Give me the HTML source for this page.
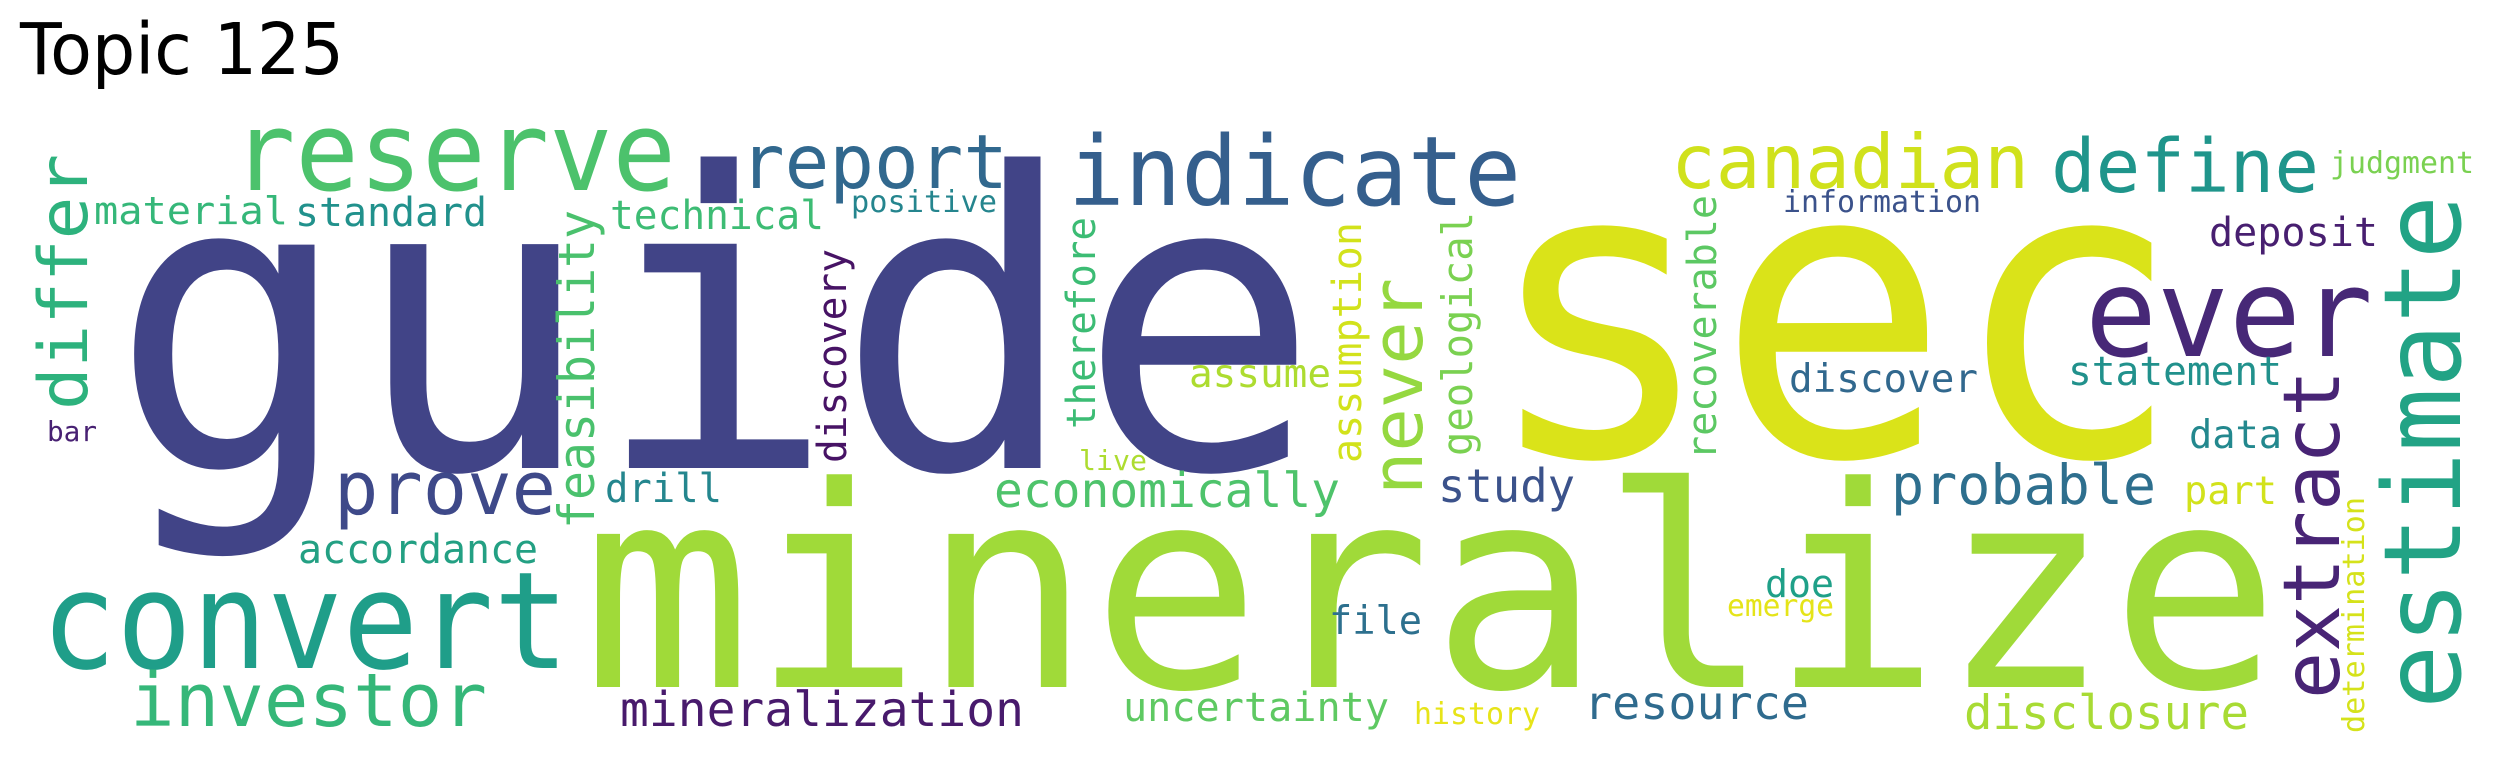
<!DOCTYPE html>
<html><head><meta charset="utf-8">
<style>
html,body{margin:0;padding:0;background:#fff;}
svg{display:block;}
text{font-family:"DejaVu Sans Mono","Liberation Mono",monospace;}
</style></head>
<body>
<svg id="cloud" width="2504" height="764" viewBox="0 0 2504 764" xmlns="http://www.w3.org/2000/svg">
<rect width="2504" height="764" fill="#fff"/>
<text x="20" y="74" font-size="71" textLength="324" lengthAdjust="spacingAndGlyphs" style="font-family:'DejaVu Sans','Liberation Sans',sans-serif" fill="#000">Topic 125</text>
</svg>
<script>
const words = ["guide","sec","mineralize","reserve","indicate","convert","ever","estimate","canadian","define","report","extract","differ","prove","investor","never","probable","economically","mineralization","disclosure","resource","feasibility","study","material","standard","technical","accordance","drill","discovery","therefore","assumption","geological","assume","recoverable","deposit","discover","statement","data","part","uncertainty","file","doe","positive","information","judgment","history","live","emerge","determination","bar"];
const sizes = [410,410,280,110,96,135,122,107,75,74,75,78,68,74,74,70,55,48,48,47,46,50,46,38,40,40,40,40,40,40,40,42,39,40,40,39,40,39,39,40,39,38,30,30,30,30,28,30,30,28];
const colors = ["#414487","#dae319","#a0da39","#4cc26c","#355f8d","#1f9e89","#472877","#22a385","#d0e11c","#1f958b","#31688e","#482475","#2db27d","#3e4989","#35b779","#95d840","#2e6f8e","#4ec36b","#481a6c","#a8db34","#2f6b8e","#4ac16d","#3b528b","#35b779","#21918c","#3dbc74","#23a083","#24868e","#471365","#3cbc74","#d2e21b","#7ad151","#addc30","#5cc863","#481f70","#31688e","#21918c","#23888e","#d2e21b","#5ec962","#2d708e","#1fa088","#25858e","#3b528b","#7ad151","#e7e419","#addc30","#e5e419","#d5e21a","#482173"];
const vertical = [0,0,0,0,0,0,0,1,0,0,0,1,1,0,0,1,0,0,0,0,0,1,0,0,0,0,0,0,1,1,1,1,0,1,0,0,0,0,0,0,0,0,0,0,0,0,0,0,1,0];
// layout: [anchor x, anchor y, rendered length]
const layout = [[110,468,1210],[1482,455,702],[582,687,1698],[232,190,444],[1068,205,453],[41,668,528],[2085,356,288],[2460,709,514],[1671,188,358],[2051,192,268],[740,188,268],[2339,699,329],[87,410,256],[334,514,222],[130,726,357],[1422,495,217],[1891,504,265],[994,507,346],[620,726,404],[1964,729,285],[1584,719,225],[594,529,319],[1438,502,137],[94,224,194],[295,226,192],[610,229,214],[298,563,240],[605,502,117],[846,463,214],[1095,429,212],[1361,463,241],[1472,456,244],[1189,387,142],[1716,460,265],[2209,246,169],[1789,392,189],[2068,385,214],[2189,448,93],[2184,504,93],[1123,721,266],[1329,634,93],[1765,597,69],[851,212,146],[1783,212,198],[2330,173,144],[1414,724,126],[1079,470,68],[1727,616,107],[2364,733,236],[47,441,50]];
const svg = document.getElementById('cloud');
const NS = 'http://www.w3.org/2000/svg';
for (let i = 0; i < words.length; i++) {
  const t = document.createElementNS(NS, 'text');
  t.textContent = words[i];
  t.setAttribute('font-size', sizes[i]);
  t.setAttribute('fill', colors[i]);
  t.setAttribute('textLength', layout[i][2]);
  t.setAttribute('lengthAdjust', 'spacingAndGlyphs');
  if (vertical[i]) {
    t.setAttribute('transform', 'translate(' + layout[i][0] + ',' + layout[i][1] + ') rotate(-90)');
    t.setAttribute('x', 0);
    t.setAttribute('y', 0);
  } else {
    t.setAttribute('x', layout[i][0]);
    t.setAttribute('y', layout[i][1]);
  }
  
  
  svg.appendChild(t);
}
</script>
</body></html>
